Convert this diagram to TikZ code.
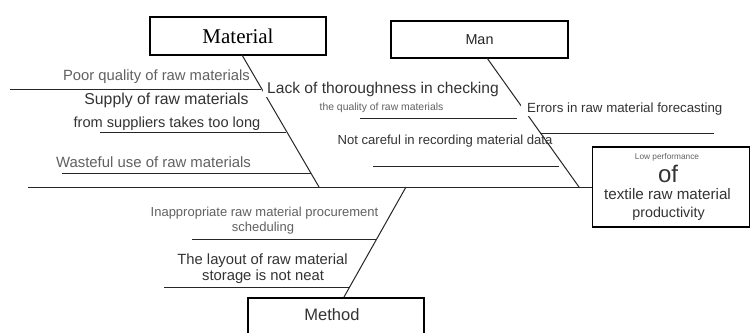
\documentclass[tikz,border=0pt]{standalone}
\usepackage{fontspec}
\setmainfont{Liberation Serif}
\setsansfont{Liberation Sans}
\newcommand{\myfs}[1]{\fontsize{#1}{#1}\selectfont}
\begin{document}
\begin{tikzpicture}[x=1pt,y=-1pt,
  box/.style={draw=black, line width=1.6pt, fill=white, inner sep=0pt},
  branch/.style={draw=black!85, line width=1pt},
  lbl/.style={font=\sffamily, text=black!80, inner sep=1pt},
  lite/.style={lbl, text=black!62},
  mask/.style={lbl, fill=white, inner xsep=4pt, inner ysep=1pt}]
\clip (0,0) rectangle (751,332);
\fill[white] (0,0) rectangle (751,332);
% category boxes and effect
\node[box, minimum width=176pt, minimum height=38pt, font=\rmfamily\myfs{21}] (mat) at (238,36) {Material};
\node[box, minimum width=177pt, minimum height=37pt, font=\sffamily\myfs{14.4}, text=black!85] (man) at (479.5,39.5) {Man};
\node[box, minimum width=157pt, minimum height=80pt] (eff) at (671,187) {};
\node[box, minimum width=176pt, minimum height=48pt, anchor=north] (meth) at (336,297) {};
% coordinates
\coordinate (spL) at (28,187);
\coordinate (mtop) at (242,55);
\coordinate (mj) at (319,187);
\coordinate (ntop) at (487,58);
\coordinate (nj) at (579,187);
\coordinate (dj) at (406,187);
\coordinate (dbot) at (344,297);
% spine and bones
\draw[branch] (spL) -- (eff.west);
\draw[branch] (mtop) -- (mj);
\draw[branch] (ntop) -- (nj);
\draw[branch] (dj) -- (dbot);
% material branches
\coordinate (m1a) at (10,89);  \coordinate (m1b) at (261,89);
\coordinate (m2a) at (100,132); \coordinate (m2b) at (286,132);
\coordinate (m3a) at (62,173); \coordinate (m3b) at (311,173);
\draw[branch] (m1a) -- (m1b);
\draw[branch] (m2a) -- (m2b);
\draw[branch] (m3a) -- (m3b);
% man branches
\coordinate (n1a) at (360,118); \coordinate (n1b) at (517,118);
\coordinate (n2a) at (540,133); \coordinate (n2b) at (714,133);
\coordinate (n3a) at (373,166); \coordinate (n3b) at (559,166);
\draw[branch] (n1a) -- (n1b);
\draw[branch] (n2a) -- (n2b);
\draw[branch] (n3a) -- (n3b);
% method branches
\coordinate (d1a) at (192,239); \coordinate (d1b) at (377,239);
\coordinate (d2a) at (164,287); \coordinate (d2b) at (350,287);
\draw[branch] (d1a) -- (d1b);
\draw[branch] (d2a) -- (d2b);
% material labels
\node[lite, font=\sffamily\myfs{14.8}, anchor=east] (t1) at (251,77) {Poor quality of raw materials};
\node[lbl, font=\sffamily\myfs{15.8}] (t2) at (166.5,100) {Supply of raw materials};
\node[lbl, font=\sffamily\myfs{14.6}] (t3) at (167,124) {from suppliers takes too long};
\node[lite, font=\sffamily\myfs{14.9}] (t4) at (153.5,162) {Wasteful use of raw materials};
% man labels
\node[mask, font=\sffamily\myfs{15.6}, anchor=west] (t5) at (263,89) {Lack of thoroughness in checking};
\node[lite, font=\sffamily\myfs{10.4}] (t6) at (381.5,108) {the quality of raw materials};
\node[mask, font=\sffamily\myfs{13.3}, anchor=west, inner xsep=6pt] (t7) at (521,109) {Errors in raw material forecasting};
\node[lbl, font=\sffamily\myfs{13.1}] (t8) at (445,141) {Not careful in recording material data};
% method labels
\node[lite, font=\sffamily\myfs{13}] (t9) at (264.5,213) {Inappropriate raw material procurement};
\node[lite, font=\sffamily\myfs{13}] (t10) at (263,228) {scheduling};
\node[lbl, font=\sffamily\myfs{14.8}] (t11) at (262.5,261) {The layout of raw material};
\node[lbl, font=\sffamily\myfs{14.8}] (t12) at (263,277) {storage is not neat};
\node[lbl, font=\sffamily\myfs{16.5}] (t13) at (332,315) {Method};
% effect labels
\node[lite, font=\sffamily\myfs{8.3}] (e1) at (667,157) {Low performance};
\node[lbl, font=\sffamily\myfs{24}] (e2) at (668,174) {of};
\node[lbl, font=\sffamily\myfs{15.2}] (e3) at (667.5,194) {textile raw material};
\node[lbl, font=\sffamily\myfs{14.3}] (e4) at (668.5,214) {productivity};
\end{tikzpicture}
\end{document}
